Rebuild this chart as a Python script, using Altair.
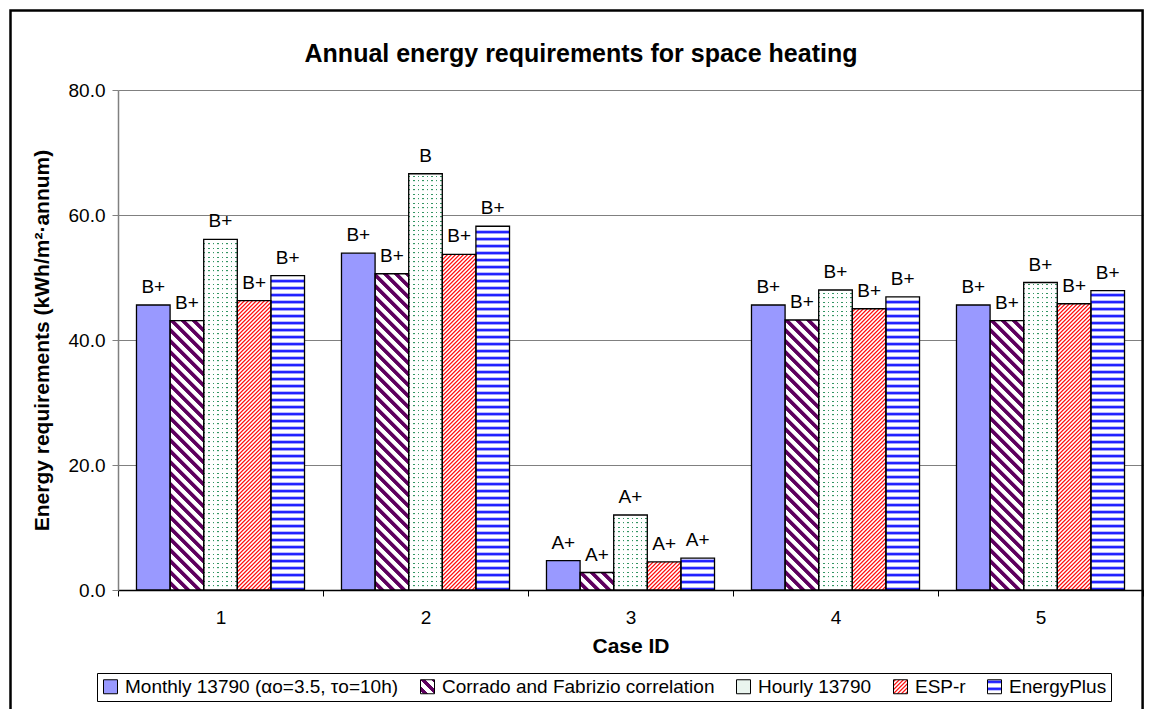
import json
import math
import altair as alt

# ---------------- data ----------------
CASES = ["1", "2", "3", "4", "5"]
SERIES = [
    "Monthly 13790 (αo=3.5, τo=10h)",
    "Corrado and Fabrizio correlation",
    "Hourly 13790",
    "ESP-r",
    "EnergyPlus",
]
MONTHLY = [45.6, 53.9, 4.7, 45.6, 45.6]
CORRADO = [43.1, 50.6, 2.8, 43.2, 43.1]
HOURLY = [56.1, 66.6, 12.0, 48.0, 49.2]
ESPR = [46.3, 53.7, 4.5, 45.0, 45.8]
EPLUS = [50.3, 58.2, 5.1, 46.9, 47.9]
MONTHLY_CLASS = ["B+", "B+", "A+", "B+", "B+"]
CORRADO_CLASS = ["B+", "B+", "A+", "B+", "B+"]
HOURLY_CLASS = ["B+", "B", "A+", "B+", "B+"]
ESPR_CLASS = ["B+", "B+", "A+", "B+", "B+"]
EPLUS_CLASS = ["B+", "B+", "A+", "B+", "B+"]

VALUES = [MONTHLY, CORRADO, HOURLY, ESPR, EPLUS]
CLASSES = [MONTHLY_CLASS, CORRADO_CLASS, HOURLY_CLASS, ESPR_CLASS, EPLUS_CLASS]

# ---------------- layout / style ----------------
FONT = "Liberation Sans"
PLOT_W, PLOT_H = 1025, 500
Y_MAX = 80.0
GROUP_PAD = 0.55
BAR_W = PLOT_W / len(CASES) / (len(SERIES) + 2 * GROUP_PAD)
CHUNK = 8.0  # fill patterns are painted in slices of this many units (50 px)

W = (255, 255, 255, 1)
T = (255, 255, 255, 0)
PU = (94, 0, 94, 1)
RD = (255, 20, 20, 1)
GR = (52, 150, 100, 1)
BL = (32, 32, 255, 1)
LB = (160, 160, 255, 1)

# periodic colour profiles: (position within period, colour)
PURPLE_PROF = [(0.0, PU), (0.40, PU), (0.47, W), (0.93, W), (1.0, PU)]
RED_PROF = [(0.0, W), (0.10, W), (0.40, RD), (0.55, RD), (0.85, W), (1.0, W)]
BLUE_PROF = [(0.0, W), (0.10, LB), (0.22, BL), (0.38, BL), (0.50, LB), (0.60, W), (1.0, W)]
DOT_ROW_PROF = [(0.0, W), (0.04, GR), (0.30, GR), (0.34, W), (1.0, W)]
DOT_MASK_PROF = [(0.0, T), (0.30, T), (0.34, W), (0.96, W), (1.0, T)]
P_PURPLE, P_RED, P_BLUE, P_DOT = 11.0, 4.0, 7.0, 4.5


def css(c):
    return "rgba(%d,%d,%d,%g)" % c


def mix(c1, c2, f):
    return tuple(round(c1[i] + (c2[i] - c1[i]) * f, 3) if i == 3 else
                 int(round(c1[i] + (c2[i] - c1[i]) * f)) for i in range(4))


def profile_stops(length, period, prof, phase=0.0):
    shift = phase % period
    n = int(math.ceil((length + shift) / period)) + 1
    pts = []
    for i in range(-1, n + 1):
        for p, c in prof:
            pts.append(((i + p) * period - shift, c))

    def color_at(u):
        for j in range(len(pts) - 1):
            (u0, c0), (u1, c1) = pts[j], pts[j + 1]
            if u0 <= u <= u1:
                return c0 if u1 == u0 else mix(c0, c1, (u - u0) / (u1 - u0))
        return pts[-1][1]

    stops = [{"offset": 0, "color": css(color_at(0.0))}]
    for u, c in pts:
        if 0.0 < u < length:
            stops.append({"offset": round(u / length, 5), "color": css(c)})
    stops.append({"offset": 1, "color": css(color_at(length))})
    return stops


def diag_down(w, h, period, prof, top=0.0):
    L = w + h
    k = L / (w * w + h * h)
    return {"gradient": "linear", "x1": 0, "y1": 1, "x2": round(k * w, 6),
            "y2": round(1 - k * h, 6),
            "stops": profile_stops(L, period, prof, -(h + top))}


def diag_up(w, h, period, prof, top=0.0):
    L = w + h
    k = L / (w * w + h * h)
    return {"gradient": "linear", "x1": 0, "y1": 0, "x2": round(k * w, 6),
            "y2": round(k * h, 6), "stops": profile_stops(L, period, prof, top)}


def rows(h, period, prof, top=0.0):
    return {"gradient": "linear", "x1": 0.5, "y1": 0, "x2": 0.5, "y2": 1,
            "stops": profile_stops(h, period, prof, top)}


def cols(w, period, prof):
    return {"gradient": "linear", "x1": 0, "y1": 0.5, "x2": 1, "y2": 0.5,
            "stops": profile_stops(w, period, prof)}


def chunk_pattern(si, lo, hi):
    h = (hi - lo) / Y_MAX * PLOT_H
    top = (Y_MAX - hi) / Y_MAX * PLOT_H
    w = BAR_W
    if si == 0:
        return "#9999ff"
    if si == 1:
        return diag_down(w, h, P_PURPLE, PURPLE_PROF, top)
    if si == 2:
        return rows(h, P_DOT, DOT_ROW_PROF, top)
    if si == 3:
        return diag_up(w, h, P_RED, RED_PROF, top)
    return rows(h, P_BLUE, BLUE_PROF, top)


records = []
chunks = []
mask_records = []
for ci, case in enumerate(CASES):
    for si, s in enumerate(SERIES):
        v = VALUES[si][ci]
        records.append({"case": case, "series": s, "value": v,
                        "rating": CLASSES[si][ci]})
        lo = 0.0
        while lo < v - 1e-9:
            hi = v if si == 0 else min(lo + CHUNK, v)
            chunks.append({"case": case, "series": s, "lo": lo, "hi": hi,
                           "pattern": chunk_pattern(si, lo, hi)})
            lo = hi
        if si == 2:
            mask_records.append({"case": case, "series": s, "value": v,
                                 "mask": cols(BAR_W, P_DOT, DOT_MASK_PROF)})

LEG = 14.0
LEGEND_RANGE = [
    "#9999ff",
    {"expr": json.dumps(diag_down(LEG, LEG, P_PURPLE, PURPLE_PROF))},
    "#eaf5ef",
    {"expr": json.dumps(diag_up(LEG, LEG, P_RED, RED_PROF))},
    {"expr": json.dumps(rows(LEG, P_BLUE, BLUE_PROF))},
]

# ---------------- encodings ----------------
x_enc = alt.X(
    "case:N",
    scale=alt.Scale(domain=CASES, paddingInner=0, paddingOuter=0),
    title="Case ID",
    axis=alt.Axis(labelAngle=0, tickBand="extent", tickSize=6, tickColor="black",
                  tickWidth=1, domainColor="black", domainWidth=1.5, grid=False,
                  labelFontSize=19, labelColor="black", labelBaseline="alphabetic",
                  labelPadding=27, titleFontSize=21, titleFontWeight="bold",
                  titleColor="black", titleBaseline="alphabetic", titleY=62),
)
xoff_enc = alt.XOffset(
    "series:N", scale=alt.Scale(domain=SERIES, paddingInner=0, paddingOuter=GROUP_PAD)
)
y_scale = alt.Scale(domain=[0, Y_MAX], nice=False)
y_axis = alt.Axis(values=[0, 20, 40, 60, 80], format=".1f", grid=True,
                  gridColor="#808080", gridWidth=1, domainColor="#808080",
                  domainWidth=1.5, tickColor="#808080", tickSize=6, tickWidth=1,
                  labelPadding=7, labelFontSize=19, labelColor="black",
                  titleFontSize=21, titleFontWeight="bold", titleColor="black",
                  titleX=-70, titleY=250, titleAngle=270,
                  titleBaseline="alphabetic", titleAlign="center")
Y_TITLE = "Energy requirements (kWh/m²·annum)"
y_enc = alt.Y("value:Q", scale=y_scale, title=Y_TITLE, axis=y_axis)

frame = alt.Chart(alt.Data(values=[{"k": 0}])).mark_rect(
    fillOpacity=0, stroke="black", strokeWidth=2.5
).encode(
    x=alt.value(-107.5), x2=alt.value(1024.6), y=alt.value(-79.5), y2=alt.value(640)
)

legend_layer = alt.Chart(alt.Data(values=records)).mark_bar(opacity=0).encode(
    x=x_enc,
    xOffset=xoff_enc,
    y=y_enc,
    color=alt.Color(
        "series:N",
        scale=alt.Scale(domain=SERIES, range=LEGEND_RANGE),
        legend=alt.Legend(
            orient="none", legendX=-21, legendY=583, direction="horizontal",
            title=None, symbolType="square", symbolSize=196,
            symbolStrokeColor="black", symbolStrokeWidth=1, symbolOpacity=1,
            labelFontSize=19, labelFont=FONT, labelColor="black", labelLimit=400,
            labelOffset=5, columnPadding=19, padding=4, strokeColor="black",
            fillColor="white",
        ),
    ),
)

pattern_bars = alt.Chart(alt.Data(values=chunks)).mark_bar().encode(
    x=x_enc,
    xOffset=xoff_enc,
    y=alt.Y("lo:Q", scale=y_scale, title=Y_TITLE, axis=y_axis),
    y2="hi:Q",
    fill=alt.Fill("pattern:N", scale=None),
)

dot_mask = alt.Chart(alt.Data(values=mask_records)).mark_bar().encode(
    x=x_enc, xOffset=xoff_enc, y=y_enc, fill=alt.Fill("mask:N", scale=None)
)

outlines = alt.Chart(alt.Data(values=records)).mark_bar(
    fillOpacity=0, stroke="black", strokeWidth=1.3
).encode(x=x_enc, xOffset=xoff_enc, y=y_enc)

labels = alt.Chart(alt.Data(values=records)).mark_text(
    font=FONT, fontSize=19, baseline="alphabetic", dy=-12, color="black"
).encode(x=x_enc, xOffset=xoff_enc, y=y_enc, text="rating:N")

chart = alt.layer(frame, legend_layer, pattern_bars, dot_mask, outlines, labels).properties(
    width=PLOT_W,
    height=PLOT_H,
    title=alt.TitleParams(
        "Annual energy requirements for space heating", font=FONT, fontSize=25,
        fontWeight="bold", color="black", anchor="middle", offset=-58, dx=-49.5,
    ),
    padding={"left": 110, "top": 82, "right": 1, "bottom": 119},
    autosize=alt.AutoSizeParams(type="none"),
).configure_view(strokeWidth=0).configure_axis(labelFont=FONT, titleFont=FONT)

chart.save("out.html", embed_options={"renderer": "svg", "actions": False})
